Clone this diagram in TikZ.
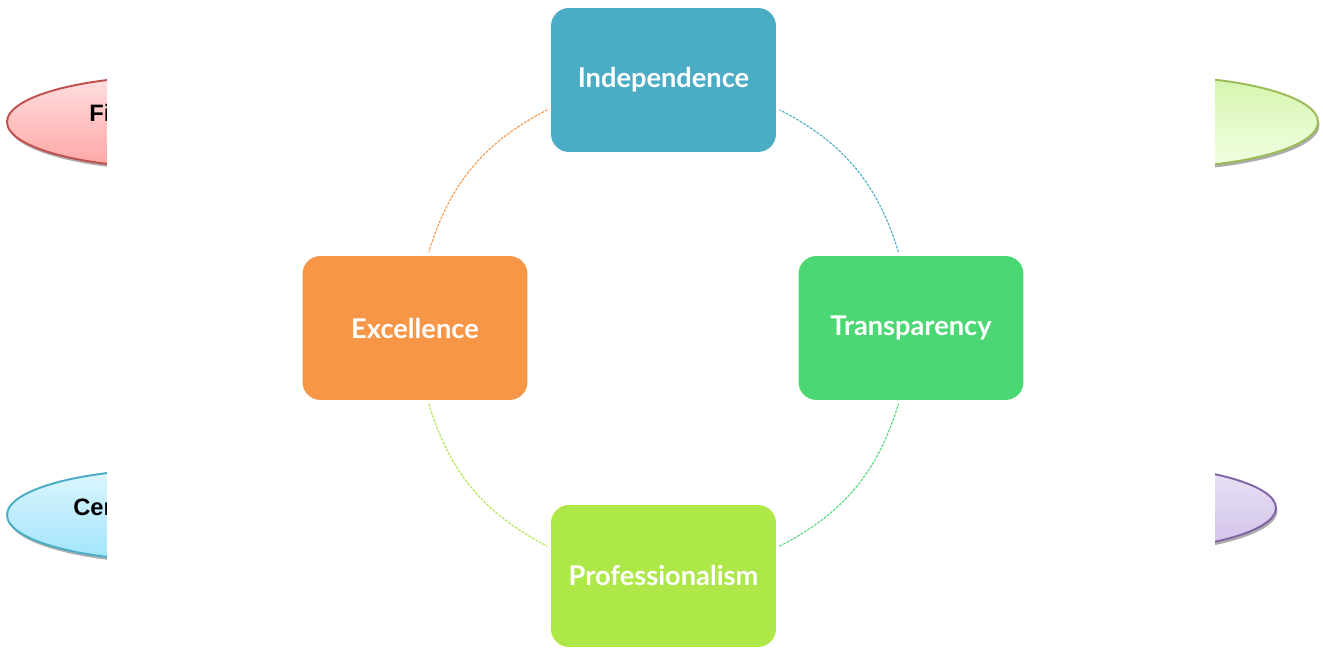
\documentclass[tikz,border=0pt]{standalone}
\usepackage{fontspec}
\setmainfont{Liberation Sans}
\newfontfamily\boxfont{Lato}
\usepackage{tikz}
\usepackage{xcolor}

\definecolor{indcol}{HTML}{4BACC6}
\definecolor{exccol}{HTML}{F79646}
\definecolor{tracol}{HTML}{4BD874}
\definecolor{procol}{HTML}{ADE848}

\begin{document}
\begin{tikzpicture}[x=0.02cm,y=0.02cm,
  valuebox/.style={rectangle,rounded corners=0.36cm,minimum width=4.5cm,minimum height=2.88cm,
    text=white,font=\boxfont\bfseries\fontsize{15.5}{18}\selectfont},
  ring/.style={line width=0.6pt,dash pattern=on 1.6pt off 0.7pt,shorten <=2pt,shorten >=2pt},
  oval/.style={line width=1.1pt},
  ovalshade/.style={fill=gray!65}]
\useasboundingbox (0,0) rectangle (1323,648);
% side ovals
\fill[ovalshade] (178.5,523) ellipse (170 and 46);
\draw[oval,draw={rgb,255:red,192;green,80;blue,77},
  top color={rgb,255:red,255;green,224;blue,224},bottom color={rgb,255:red,255;green,165;blue,165}]
  (177,526) ellipse (170 and 46);
\node[anchor=base west,inner sep=0pt,font=\bfseries\fontsize{13.5}{16}\selectfont] (fin) at (89,526) {Fi};
\fill[ovalshade] (178.5,130) ellipse (170 and 46);
\draw[oval,draw=indcol,
  top color={rgb,255:red,222;green,246;blue,255},bottom color={rgb,255:red,160;green,228;blue,250}]
  (177,133) ellipse (170 and 46);
\node[anchor=base west,inner sep=0pt,font=\bfseries\fontsize{13.5}{16}\selectfont] (cer) at (73,132) {Cer};
\fill[ovalshade] (1149.5,523) ellipse (170 and 46);
\draw[oval,draw={rgb,255:red,155;green,187;blue,89},
  top color={rgb,255:red,212;green,245;blue,172},bottom color={rgb,255:red,242;green,255;blue,228}]
  (1148,526) ellipse (170 and 46);
\fill[ovalshade] (1107.5,137) ellipse (170 and 44);
\draw[oval,draw={rgb,255:red,128;green,100;blue,162},
  top color={rgb,255:red,235;green,228;blue,246},bottom color={rgb,255:red,208;green,192;blue,234}]
  (1106,140) ellipse (170 and 44);
\fill[white] (107,0) rectangle (1215,648);
% the four values
\node[valuebox,fill=indcol] (ind) at (663.5,568) {Independence};
\node[valuebox,fill=exccol] (exc) at (415,320) {Excellence};
\node[valuebox,fill=tracol] (tra) at (911,320) {Transparency};
\node[valuebox,fill=procol,minimum height=2.84cm] (pro) at (663.5,72) {Professionalism};
% cycle
\draw[ring,exccol] (ind.194) to[bend right=23] (exc.80);
\draw[ring,procol] (exc.280) to[bend right=23] (pro.166);
\draw[ring,tracol] (pro.14) to[bend right=23] (tra.261);
\draw[ring,indcol] (tra.99) to[bend right=23] (ind.346);
\end{tikzpicture}
\end{document}
